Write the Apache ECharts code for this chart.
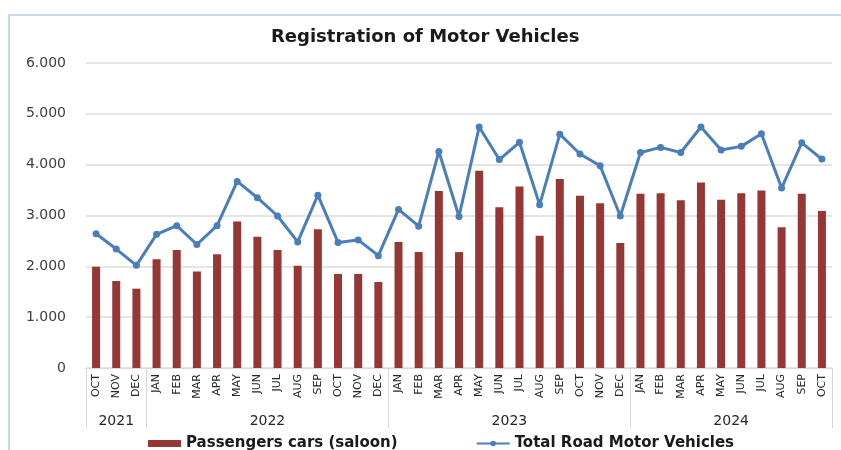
<!DOCTYPE html>
<html>
<head>
<meta charset="utf-8">
<script src="https://cdn.jsdelivr.net/npm/echarts@6/dist/echarts.min.js"></script>
<style>
  html, body { margin: 0; padding: 0; background: #fff; }
  #chart { width: 841px; height: 450px; }
</style>
</head>
<body>
<div id="chart"></div>
<script>
// months, Oct 2021 .. Oct 2024
const months = [
  "OCT", "NOV", "DEC",
  "JAN", "FEB", "MAR", "APR", "MAY", "JUN", "JUL", "AUG", "SEP", "OCT", "NOV", "DEC",
  "JAN", "FEB", "MAR", "APR", "MAY", "JUN", "JUL", "AUG", "SEP", "OCT", "NOV", "DEC",
  "JAN", "FEB", "MAR", "APR", "MAY", "JUN", "JUL", "AUG", "SEP", "OCT"
];
const years = ["2021", "2022", "2023", "2024"];
const yearBounds = [0, 3, 15, 27, 37]; // month index where each year group starts / ends

const passengerCars = [
  1990, 1710, 1560,
  2140, 2320, 1900, 2240, 2880, 2580, 2320, 2010, 2730, 1850, 1850, 1690,
  2480, 2280, 3480, 2280, 3880, 3160, 3570, 2600, 3720, 3390, 3240, 2460,
  3430, 3440, 3300, 3650, 3310, 3440, 3490, 2770, 3430, 3090
];
const totalVehicles = [
  2640, 2340, 2020,
  2630, 2800, 2430, 2800, 3670, 3350, 2990, 2480, 3400, 2470, 2520, 2210,
  3120, 2790, 4260, 2980, 4740, 4100, 4440, 3210, 4600, 4210, 3980, 2990,
  4240, 4340, 4240, 4740, 4290, 4360, 4610, 3540, 4430, 4110
];
const yTicks = [0, 1000, 2000, 3000, 4000, 5000, 6000];

const chart = echarts.init(document.getElementById("chart"));

const fmtThousands = (v) => String(v).replace(/\B(?=(\d{3})+(?!\d))/g, ".");
const yearCenters = years.map((y, i) => (yearBounds[i] + yearBounds[i + 1]) / 2);

chart.setOption({
  animation: false,
  textStyle: { fontFamily: "DejaVu Sans" },
  title: {
    text: "Registration of Motor Vehicles",
    left: 266,
    top: 23,
    textStyle: { fontSize: 18, fontWeight: "bold", color: "#1a1a1a", fontFamily: "DejaVu Sans" },
  },
  graphic: [
    {
      type: "rect",
      shape: { x: 9, y: 15, width: 900, height: 500 },
      style: { fill: "none", stroke: "#b3cbed", lineWidth: 1.5 },
      silent: true,
    },
  ],
  grid: { left: 86, right: 9, top: 63, bottom: 82 },
  legend: {
    bottom: -6,
    left: 143,
    itemGap: 78,
    itemWidth: 33,
    itemHeight: 7,
    textStyle: { fontSize: 15, fontWeight: "bold", color: "#1a1a1a" },
    data: [
      { name: "Passengers cars (saloon)", icon: "rect" },
      { name: "Total Road Motor Vehicles" },
    ],
  },
  xAxis: [
    {
      type: "category",
      data: months,
      position: "bottom",
      axisLine: { lineStyle: { color: "#d9d9d9", width: 1 } },
      axisTick: { show: false },
      axisLabel: { rotate: 90, margin: 6, fontSize: 11, color: "#262626", interval: 0 },
    },
    {
      type: "value",
      min: 0,
      max: 37,
      position: "bottom",
      axisLine: { show: false },
      splitLine: { show: false },
      axisTick: {
        show: true,
        customValues: yearBounds,
        length: 60,
        lineStyle: { color: "#d9d9d9", width: 1 },
      },
      axisLabel: {
        customValues: yearCenters,
        formatter: (v) => years[yearCenters.indexOf(v)] || "",
        margin: 46,
        fontSize: 14,
        color: "#262626",
      },
    },
  ],
  yAxis: {
    type: "value",
    min: 0,
    max: 6000,
    interval: 1000,
    axisLine: { show: false },
    axisTick: { show: false },
    axisLabel: {
      margin: 20,
      fontSize: 14,
      color: "#404040",
      formatter: (v) => (yTicks.includes(v) ? fmtThousands(v) : ""),
    },
    splitLine: { lineStyle: { color: "#dcdcdc", width: 1.5 } },
  },
  series: [
    {
      name: "Passengers cars (saloon)",
      type: "bar",
      data: passengerCars,
      barWidth: 8,
      itemStyle: { color: "#953735" },
    },
    {
      name: "Total Road Motor Vehicles",
      type: "line",
      data: totalVehicles,
      symbol: "circle",
      symbolSize: 7,
      lineStyle: { color: "#4a7ebb", width: 3 },
      itemStyle: { color: "#4a7ebb" },
    },
  ],
});
</script>
</body>
</html>
